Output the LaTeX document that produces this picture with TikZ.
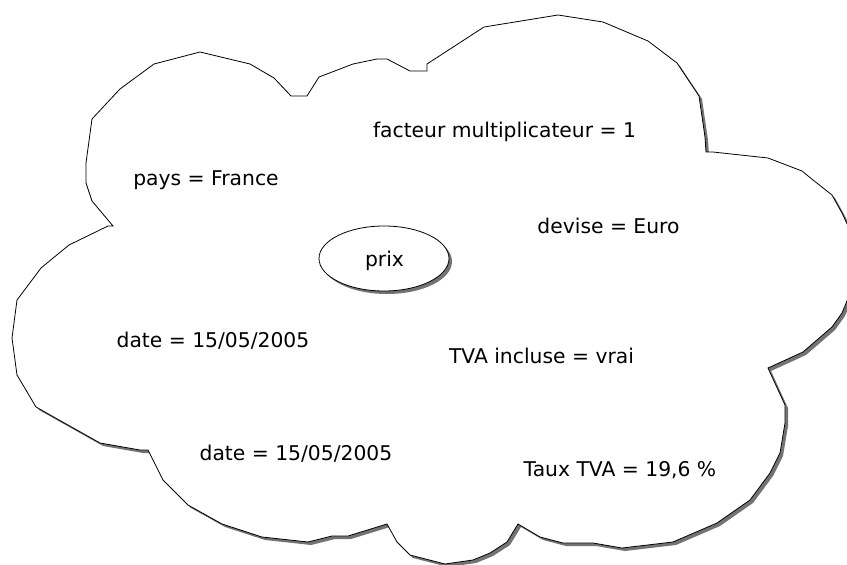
\documentclass[tikz,border=0pt]{standalone}
\usepackage{fontspec}
\setmainfont{DejaVu Sans}
\usetikzlibrary{shapes.geometric}

\tikzset{
  outline/.style={draw=black, line width=0.8pt, fill=white, line join=miter},
  shade/.style={fill=black!55, draw=none},
  label/.style={anchor=base, inner sep=0pt, font=\fontsize{20.3}{24}\selectfont},
}

% outline of the cloud, clockwise from the upper left bulge
\def\cloudpath{(200,52) -- (250,64) -- (274,78) -- (291,96) -- (307,96) -- (319,77)
  -- (353,64) -- (377,59) -- (387,59) -- (410,71) -- (427,71) -- (427,64)
  -- (484,27) -- (558,15) -- (603,22) -- (648,41) -- (677,63) -- (699,96)
  -- (705,137) -- (706,152) -- (713,152) -- (768,158) -- (802,171) -- (813,180)
  -- (832,195) -- (842,213) -- (849,228) -- (849,296) -- (842,313) -- (832,327)
  -- (803,352) -- (768,368) -- (785,405) -- (785,423) -- (780,453) -- (770,473)
  -- (750,500) -- (717,523) -- (673,542) -- (622,548) -- (593,543) -- (563,543)
  -- (540,537) -- (518,524) -- (507,542) -- (490,553) -- (473,560) -- (445,564)
  -- (410,555) -- (397,542) -- (387,524) -- (348,536) -- (332,536) -- (308,542)
  -- (262,537) -- (222,524) -- (188,505) -- (163,480) -- (148,450) -- (140,450)
  -- (100,443) -- (36,407) -- (17,375) -- (12,338) -- (17,300) -- (41,268)
  -- (69,245) -- (108,226) -- (113,226) -- (92,201) -- (86,183) -- (86,163)
  -- (92,119) -- (120,89) -- (154,64) -- cycle}

\begin{document}
\begin{tikzpicture}[x=1pt, y=-1pt]
  \useasboundingbox (0,0) rectangle (847,565);

  % cloud with its drop shadow
  \fill[shade, shift={(3,3)}] \cloudpath;
  \path[outline] \cloudpath;

  % central entity
  \fill[shade] (387,261.5) ellipse [x radius=65, y radius=32.5];
  \node[ellipse, outline, minimum width=130pt, minimum height=65pt, inner sep=0pt]
    (prixbox) at (384,258.5) {};
  \node[label] (prix) at (384.5,266) {prix};

  % attributes
  \node[label] (facteur) at (504.5,137) {facteur multiplicateur = 1};
  \node[label] (pays)    at (206,185)   {pays = France};
  \node[label] (devise)  at (608.5,233) {devise = Euro};
  \node[label] (date1)   at (213,347)   {date = 15/05/2005};
  \node[label] (tva)     at (541.5,363) {TVA incluse = vrai};
  \node[label] (date2)   at (296,460)   {date = 15/05/2005};
  \node[label] (taux)    at (620,476)   {Taux TVA = 19,6 \%};
\end{tikzpicture}
\end{document}
